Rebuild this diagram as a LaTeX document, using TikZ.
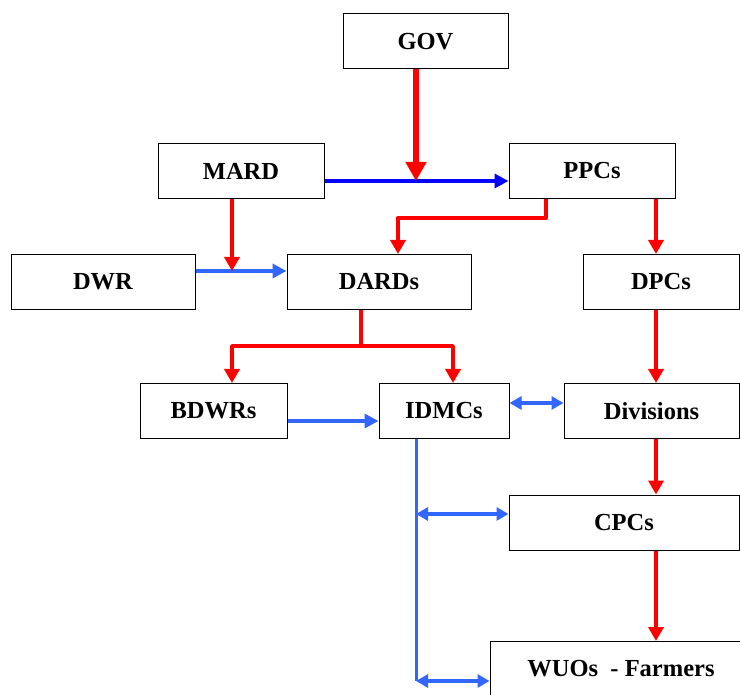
\documentclass[tikz,border=0pt]{standalone}
\usepackage{fontspec}
\setmainfont{Liberation Serif}
\usetikzlibrary{arrows.meta}
\definecolor{arrred}{RGB}{255,0,0}
\definecolor{arrblue}{RGB}{0,0,255}
\definecolor{arrsky}{RGB}{51,102,255}

\begin{document}
\begin{tikzpicture}[x=1pt,y=-1pt,
  box/.style={draw, line width=1pt, inner sep=0pt, minimum height=55,
    font=\fontsize{24.5}{28}\selectfont\bfseries},
  redline/.style={arrred, line width=4.5pt, line join=round,
    -{Triangle[length=14pt,width=15pt]}},
  redbig/.style={arrred, line width=6pt, -{Triangle[length=19pt,width=20pt]}},
  redplain/.style={arrred, line width=3.5pt},
  blueline/.style={arrsky, line width=4pt, -{Triangle[length=14pt,width=14pt]}},
  blueplain/.style={arrsky, line width=3pt},
  bluetwo/.style={arrsky, line width=4pt,
    {Triangle[length=12pt,width=13pt]}-{Triangle[length=12pt,width=13pt]}}]
\useasboundingbox (0,0) rectangle (740,695);
\clip (0,0) rectangle (740,695);

% boxes
\node[box, minimum width=165] (gov) at (425.5,41.5) {GOV};
\node[box, minimum width=166] (mard) at (241,171) {MARD};
\node[box, minimum width=166] (ppcs) at (592,171) {PPCs};
\node[box, minimum width=184] (dwr) at (103,282) {DWR};
\node[box, minimum width=184] (dards) at (379,282) {DARDs};
\node[box, minimum width=156] (dpcs) at (661,282) {DPCs};
\node[box, minimum width=147] (bdwrs) at (213.5,411) {BDWRs};
\node[box, minimum width=130] (idmcs) at (444,411) {IDMCs};
\node[box, minimum width=175] (divs) at (651.5,411) {Divisions};
\node[box, minimum width=230] (cpcs) at (624,522.5) {CPCs};
\node[box, minimum width=262] (wuos) at (621,669) {WUOs~ - Farmers};

% helper points
\coordinate (meet) at (416,181);
\coordinate (dw) at (232,271);
\coordinate (rc) at (656,0);
\coordinate (split) at (361,346);
\coordinate (busA) at (416,514);
\coordinate (busB) at (416,681);

% blue links
\draw[blueline, arrblue] ([yshift=-10pt]mard.east) -- ([yshift=-10pt]ppcs.west);
\draw[blueline] ([yshift=11pt]dwr.east) -- ([yshift=11pt]dards.west);
\draw[blueline] ([yshift=-10pt]bdwrs.east) -- ([yshift=-10pt]idmcs.west);
\draw[bluetwo] ([yshift=8pt]idmcs.east) -- ([yshift=8pt]divs.west);
\draw[blueplain] ([xshift=-28pt]idmcs.south) -- (busB);
\draw[bluetwo] (busA) -- (busA -| cpcs.west);
\draw[bluetwo] (busB) -- (busB -| wuos.west);

% red links
\draw[redbig] (gov.south -| meet) -- (meet);
\draw[redline] ([xshift=-9pt]mard.south) -- (dw);
\draw[redline] ([xshift=-46pt]ppcs.south) -- ++(0,19) -| ([xshift=19pt]dards.north);
\draw[redline] (ppcs.south -| rc) -- (dpcs.north -| rc);
\draw[redplain] (dards.south -| split) -- (split);
\draw[redline, line width=3.5pt] (split) -| ([xshift=18.5pt]bdwrs.north);
\draw[redline, line width=3.5pt] (split) -| ([xshift=9pt]idmcs.north);
\draw[redline] (dpcs.south -| rc) -- (divs.north -| rc);
\draw[redline] (divs.south -| rc) -- (cpcs.north -| rc);
\draw[redline] (cpcs.south -| rc) -- (wuos.north -| rc);
\end{tikzpicture}
\end{document}
